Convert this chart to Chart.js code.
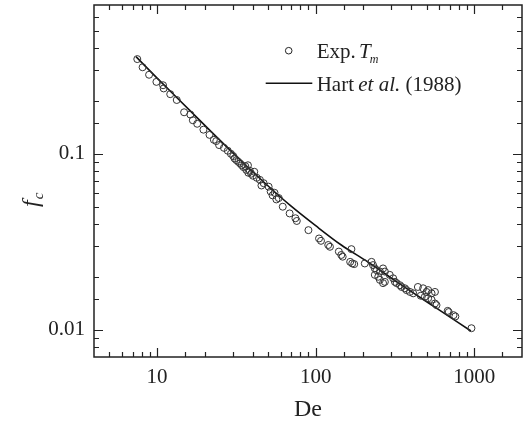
<!DOCTYPE html>
<html>
<head>
<meta charset="utf-8">
<script src="https://cdn.jsdelivr.net/npm/chart.js@4/dist/chart.umd.min.js"></script>
<style>
  body { margin: 0; background: #fff; }
  canvas { display: block; }
</style>
</head>
<body>
<canvas id="fcChart" width="528" height="428"></canvas>
<script>
// measured points (Exp. Tm)
const expDe = [7.5, 8.1, 8.9, 9.9, 10.9, 11.0, 12.1, 13.3, 14.8, 16.2, 16.8, 17.9, 19.6, 21.4, 22.8, 23.6, 24.6, 26.4, 27.9, 29.2,
  30.2, 30.8, 31.6, 32.5, 33.4, 34.2, 35.0, 36.0, 36.5, 37.4, 37.6, 38.4, 39.2, 40.2, 41.0, 42.5, 44.5, 45.5, 47.0, 50.5,
  52.0, 53.5, 55.0, 56.5, 58.5, 62.0, 68.5, 74.5, 76.0, 90.0, 105, 108, 120, 123, 140, 145, 148, 168, 165, 170,
  175, 204, 225, 230, 236, 242, 254, 266, 273, 236, 248, 254, 266, 273, 293, 308, 316, 324, 340, 348,
  365, 374, 393, 412, 441, 476, 500, 512, 538, 565, 460, 488, 512, 538, 565, 578, 680, 690, 740, 760, 960];
const expFc = [0.345, 0.310, 0.281, 0.256, 0.245, 0.235, 0.218, 0.202, 0.172, 0.167, 0.155, 0.148, 0.137, 0.128, 0.120, 0.118, 0.112, 0.108, 0.104, 0.100,
  0.097, 0.094, 0.092, 0.090, 0.088, 0.086, 0.084, 0.085, 0.081, 0.086, 0.078, 0.080, 0.077, 0.075, 0.079, 0.073, 0.071, 0.066, 0.068, 0.065,
  0.061, 0.058, 0.060, 0.055, 0.056, 0.050, 0.0458, 0.0430, 0.0415, 0.0368, 0.0330, 0.0320, 0.0303, 0.0296, 0.0278, 0.0266, 0.0260, 0.0287, 0.0243, 0.0238,
  0.0236, 0.0238, 0.0243, 0.0233, 0.0223, 0.0218, 0.0214, 0.0223, 0.0214, 0.0205, 0.0200, 0.0192, 0.0184, 0.0187, 0.0205, 0.0196, 0.0187, 0.0184, 0.0179, 0.0175,
  0.0172, 0.0168, 0.0164, 0.0161, 0.0175, 0.0172, 0.0164, 0.0168, 0.0161, 0.0164, 0.0156, 0.0154, 0.0151, 0.0148, 0.0141, 0.0138, 0.0128, 0.0126, 0.0121, 0.0119, 0.0102];

// Hart et al. (1988) curve
const hartDe = [7.36, 10, 16, 22, 33.1, 47.6, 68.5, 100, 145, 213, 330, 550, 953];
const hartFc = [0.356, 0.269, 0.177, 0.133, 0.093, 0.0684, 0.0512, 0.039, 0.0303, 0.0243, 0.01853, 0.01365, 0.00984];

const xTickLabels = [10, 100, 1000];
const yTickLabels = [0.01, 0.1];

const serif = '"Liberation Serif", "DejaVu Serif", serif';
const ink = '#222';

function isPow10(v) {
  const l = Math.log10(v);
  return Math.abs(l - Math.round(l)) < 1e-6;
}
function inList(list, v) {
  return list.some(t => Math.abs(t - v) / t < 1e-6);
}

// frame, inward ticks, y title, legend
const decorations = {
  id: 'decorations',
  afterDraw(chart) {
    const ctx = chart.ctx;
    const { left, right, top, bottom } = chart.chartArea;
    ctx.save();
    ctx.strokeStyle = ink;
    ctx.lineWidth = 1.5;
    ctx.strokeRect(left, top, right - left, bottom - top);

    ctx.lineWidth = 1.2;
    ctx.beginPath();
    chart.scales.x.ticks.forEach(t => {
      const px = Math.round(chart.scales.x.getPixelForValue(t.value)) + 0.5;
      if (px < left + 1 || px > right - 1) return;
      const len = isPow10(t.value) ? 9 : 5;
      ctx.moveTo(px, bottom); ctx.lineTo(px, bottom - len);
      ctx.moveTo(px, top); ctx.lineTo(px, top + len);
    });
    chart.scales.y.ticks.forEach(t => {
      const py = Math.round(chart.scales.y.getPixelForValue(t.value)) + 0.5;
      if (py < top + 1 || py > bottom - 1) return;
      const len = isPow10(t.value) ? 9 : 5;
      ctx.moveTo(left, py); ctx.lineTo(left + len, py);
      ctx.moveTo(right, py); ctx.lineTo(right - len, py);
    });
    ctx.stroke();

    // y axis title: f with subscript c
    ctx.fillStyle = ink;
    ctx.save();
    ctx.translate(38, 198);
    ctx.rotate(-Math.PI / 2);
    ctx.textBaseline = 'alphabetic';
    ctx.font = 'italic 24px ' + serif;
    const fw = ctx.measureText('f').width;
    ctx.fillText('f', -9, 0);
    ctx.font = 'italic 15px ' + serif;
    ctx.fillText('c', -9 + fw + 1, 5);
    ctx.restore();

    // legend
    ctx.beginPath();
    ctx.arc(288.7, 50.7, 3.3, 0, Math.PI * 2);
    ctx.lineWidth = 1;
    ctx.stroke();
    ctx.beginPath();
    ctx.moveTo(265.7, 83.3); ctx.lineTo(312.3, 83.3);
    ctx.lineWidth = 1.6;
    ctx.strokeStyle = '#111';
    ctx.stroke();

    ctx.textBaseline = 'alphabetic';
    let x = 316.7;
    ctx.font = '21px ' + serif;
    ctx.fillText('Exp. ', x, 58); x += ctx.measureText('Exp. ').width - 2;
    ctx.font = 'italic 21px ' + serif;
    ctx.fillText('T', x, 58); x += ctx.measureText('T').width - 1;
    ctx.font = 'italic 12px ' + serif;
    ctx.fillText('m', x, 63);

    x = 316.7;
    ctx.font = '21px ' + serif;
    ctx.fillText('Hart ', x, 90.7); x += ctx.measureText('Hart ').width - 1;
    ctx.font = 'italic 21px ' + serif;
    ctx.fillText('et al.', x, 90.7); x += ctx.measureText('et al.').width;
    ctx.font = '21px ' + serif;
    ctx.fillText(' (1988)', x, 90.7);
    ctx.restore();
  }
};

new Chart(document.getElementById('fcChart').getContext('2d'), {
  type: 'scatter',
  data: {
    datasets: [
      {
        label: 'Exp. Tm',
        data: expDe.map((d, i) => ({ x: d, y: expFc[i] })),
        pointStyle: 'circle',
        pointRadius: 3.5,
        borderColor: '#333',
        borderWidth: 1,
        backgroundColor: 'rgba(0,0,0,0)'
      },
      {
        label: 'Hart et al. (1988)',
        type: 'line',
        data: hartDe.map((d, i) => ({ x: d, y: hartFc[i] })),
        pointRadius: 0,
        borderColor: '#111',
        borderWidth: 1.6,
        cubicInterpolationMode: 'monotone',
        fill: false
      }
    ]
  },
  options: {
    responsive: false,
    animation: false,
    devicePixelRatio: 1,
    layout: { padding: { top: 5, right: 6, left: 0, bottom: 0 } },
    plugins: { legend: { display: false }, tooltip: { enabled: false } },
    scales: {
      x: {
        type: 'logarithmic',
        min: 4,
        max: 2000,
        grid: { display: false, drawTicks: false, tickLength: 0 },
        border: { display: false },
        ticks: {
          autoSkip: false,
          maxRotation: 0,
          padding: 8,
          color: ink,
          font: { family: serif, size: 21 },
          callback: v => inList(xTickLabels, v) ? String(Math.round(v)) : ''
        },
        title: {
          display: true,
          text: 'De',
          color: ink,
          font: { family: serif, size: 24 },
          padding: { top: 4, bottom: 4 }
        },
        afterFit: s => { s.height = 71; s.paddingLeft = 0; s.paddingRight = 0; }
      },
      y: {
        type: 'logarithmic',
        min: 0.007,
        max: 0.7,
        grid: { display: false, drawTicks: false, tickLength: 0 },
        border: { display: false },
        ticks: {
          autoSkip: false,
          padding: 9,
          color: ink,
          font: { family: serif, size: 21 },
          callback: v => inList(yTickLabels, v) ? String(v) : ''
        },
        afterFit: s => { s.width = 94; s.paddingTop = 0; s.paddingBottom = 0; }
      }
    }
  },
  plugins: [decorations]
});
</script>
</body>
</html>
